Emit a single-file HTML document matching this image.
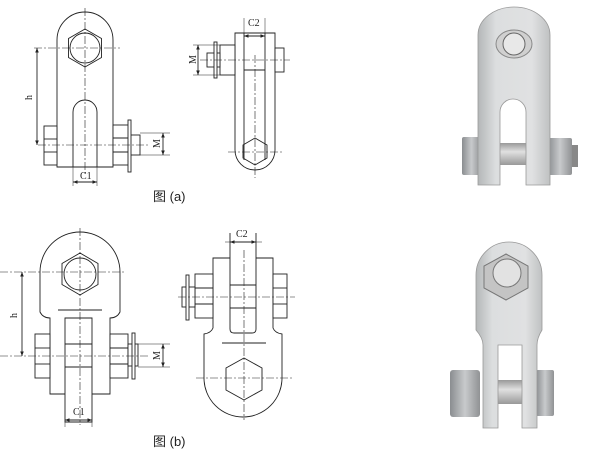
<!DOCTYPE html>
<html><head><meta charset="utf-8"><style>
html,body{margin:0;padding:0;background:#fff;width:600px;height:451px;overflow:hidden}
text{font-family:"Liberation Serif",serif;font-size:10px;fill:#222}
.cap{font-family:"Liberation Sans","Noto Sans CJK SC",sans-serif;font-size:13px}
</style></head><body>
<svg width="600" height="451" viewBox="0 0 600 451" xmlns="http://www.w3.org/2000/svg">
<defs>
<marker id="a" markerWidth="6" markerHeight="6" refX="5" refY="3" orient="auto-start-reverse"><path d="M0,1 L5,3 L0,5z" fill="#222"/></marker>
<linearGradient id="g" x1="0" x2="1"><stop offset="0" stop-color="#b4b7b8"/><stop offset="0.25" stop-color="#dcdedf"/><stop offset="0.75" stop-color="#e0e1e2"/><stop offset="1" stop-color="#bfc1c2"/></linearGradient>
<linearGradient id="n" x1="0" x2="1"><stop offset="0" stop-color="#8a8d90"/><stop offset="0.5" stop-color="#c8cacc"/><stop offset="1" stop-color="#909294"/></linearGradient>
<linearGradient id="p" x1="0" y1="0" x2="0" y2="1"><stop offset="0" stop-color="#999"/><stop offset="0.4" stop-color="#e0e0e0"/><stop offset="1" stop-color="#999"/></linearGradient>
</defs>
<g fill="none" stroke="#222" stroke-width="0.9">
<!-- (a) front -->
<path d="M57,167 V40 A28,28 0 0 1 113,40 V167 Z" fill="#fff"/>
<path d="M73,167 V112 A12,12 0 0 1 97,112 V167"/>
<polygon points="85,29 101.5,38.5 101.5,57.5 85,67 68.5,57.5 68.5,38.5"/>
<circle cx="85" cy="48" r="15"/>
<rect x="44" y="126" width="13" height="39" fill="#fff"/>
<line x1="44" y1="139" x2="57" y2="139"/><line x1="44" y1="152" x2="57" y2="152"/>
<rect x="113" y="125" width="17" height="40" fill="#fff"/>
<line x1="113" y1="138" x2="130" y2="138"/><line x1="113" y1="152" x2="130" y2="152"/>
<rect x="130" y="135" width="10" height="20" fill="#fff"/>
<rect x="128" y="120" width="3" height="52" fill="#fff"/>
<g stroke-dasharray="8,2,2,2" stroke-width="0.6">
<line x1="34" y1="48" x2="120" y2="48"/><line x1="85" y1="8" x2="85" y2="175"/><line x1="38" y1="145" x2="150" y2="145"/>
</g>
<line x1="140" y1="133" x2="170" y2="133" stroke-width="0.5"/><line x1="140" y1="155" x2="170" y2="155" stroke-width="0.5"/>
<line x1="163" y1="133" x2="163" y2="155" marker-start="url(#a)" marker-end="url(#a)"/>
<line x1="37" y1="48" x2="37" y2="145" marker-start="url(#a)" marker-end="url(#a)"/>
<line x1="73" y1="167" x2="73" y2="186" stroke-width="0.5"/><line x1="97" y1="167" x2="97" y2="186" stroke-width="0.5"/>
<line x1="73" y1="182" x2="97" y2="182" marker-start="url(#a)" marker-end="url(#a)"/>
<!-- (a) side -->
<path d="M235,33 H275 V150 A20,20 0 0 1 235,150 Z" fill="#fff"/>
<line x1="244" y1="33" x2="244" y2="160"/><line x1="265" y1="33" x2="265" y2="160"/>
<line x1="244" y1="70" x2="265" y2="70"/>
<polygon points="255,138 267,145 267,158 255,165 243,158 243,145"/>
<rect x="275" y="48" width="9" height="24" fill="#fff"/>
<rect x="220" y="45" width="15" height="30" fill="#fff"/>
<rect x="207" y="53" width="13" height="14" fill="#fff"/>
<rect x="214" y="42" width="3" height="36" fill="#fff"/>
<g stroke-dasharray="8,2,2,2" stroke-width="0.6">
<line x1="200" y1="60" x2="290" y2="60"/><line x1="255" y1="55" x2="255" y2="178"/><line x1="228" y1="152" x2="283" y2="152"/>
</g>
<line x1="244" y1="33" x2="244" y2="18" stroke-width="0.5"/><line x1="265" y1="33" x2="265" y2="18" stroke-width="0.5"/>
<line x1="244" y1="36" x2="265" y2="36" marker-start="url(#a)" marker-end="url(#a)"/>
<line x1="193" y1="45" x2="220" y2="45" stroke-width="0.5"/><line x1="193" y1="75" x2="220" y2="75" stroke-width="0.5"/>
<line x1="198" y1="45" x2="198" y2="75" marker-start="url(#a)" marker-end="url(#a)"/>
<!-- (b) front -->
<path d="M40,272 A40,40 0 0 1 120,272 V312 Q117,318 110,318 V394 H50 V318 Q43,318 40,312 Z" fill="#fff"/>
<path d="M65,422 V318 H92 V422 Z" fill="#fff"/>
<line x1="65" y1="344" x2="92" y2="344"/><line x1="65" y1="367" x2="92" y2="367"/>
<line x1="58" y1="310" x2="102" y2="310"/>
<polygon points="80,253 98,263.5 98,284.5 80,295 62,284.5 62,263.5"/>
<circle cx="80" cy="274" r="16"/>
<rect x="35" y="334" width="15" height="44" fill="#fff"/>
<line x1="35" y1="348" x2="50" y2="348"/><line x1="35" y1="364" x2="50" y2="364"/>
<rect x="110" y="334" width="18" height="44" fill="#fff"/>
<line x1="110" y1="348" x2="128" y2="348"/><line x1="110" y1="364" x2="128" y2="364"/>
<rect x="128" y="344" width="10" height="22" fill="#fff"/>
<rect x="132" y="333" width="3" height="46" fill="#fff"/>
<g stroke-dasharray="8,2,2,2" stroke-width="0.6">
<line x1="0" y1="272" x2="125" y2="272"/><line x1="80" y1="228" x2="80" y2="425"/><line x1="0" y1="356" x2="150" y2="356"/>
</g>
<line x1="138" y1="344" x2="170" y2="344" stroke-width="0.5"/><line x1="138" y1="367" x2="170" y2="367" stroke-width="0.5"/>
<line x1="163" y1="344" x2="163" y2="367" marker-start="url(#a)" marker-end="url(#a)"/>
<line x1="22" y1="272" x2="22" y2="356" marker-start="url(#a)" marker-end="url(#a)"/>
<line x1="65" y1="422" x2="65" y2="427" stroke-width="0.5"/><line x1="92" y1="422" x2="92" y2="427" stroke-width="0.5"/>
<line x1="65" y1="420" x2="92" y2="420" marker-start="url(#a)" marker-end="url(#a)"/>
<!-- (b) side -->
<path d="M213,258 H273 V328 Q275,333 282,334 V378 A39,39 0 0 1 204,378 V334 Q211,333 213,328 Z" fill="#fff"/>
<path d="M230,233 V329 Q230,333 234,333 H252 Q256,333 256,329 V233" fill="#fff"/>
<line x1="230" y1="285" x2="256" y2="285"/><line x1="230" y1="308" x2="256" y2="308"/>
<line x1="222" y1="343" x2="266" y2="343"/>
<polygon points="244,358 262,368 262,390 244,400 226,390 226,368"/>
<rect x="195" y="274" width="18" height="44" fill="#fff"/>
<line x1="195" y1="288" x2="213" y2="288"/><line x1="195" y1="304" x2="213" y2="304"/>
<rect x="273" y="274" width="14" height="44" fill="#fff"/>
<line x1="273" y1="288" x2="287" y2="288"/><line x1="273" y1="304" x2="287" y2="304"/>
<rect x="182" y="287" width="13" height="20" fill="#fff"/>
<rect x="186" y="275" width="3" height="45" fill="#fff"/>
<g stroke-dasharray="8,2,2,2" stroke-width="0.6">
<line x1="178" y1="297" x2="295" y2="297"/><line x1="244" y1="250" x2="244" y2="420"/><line x1="196" y1="378" x2="292" y2="378"/>
</g>
<line x1="225" y1="242" x2="262" y2="242" stroke-width="0.5"/>
<line x1="230" y1="242" x2="256" y2="242" marker-start="url(#a)" marker-end="url(#a)"/>
</g>
<text x="80" y="179">C1</text>
<text x="248" y="26">C2</text>
<text x="73" y="415">C1</text>
<text x="236" y="237">C2</text>
<text transform="translate(32,100) rotate(-90)">h</text>
<text transform="translate(160,148) rotate(-90)">M</text>
<text transform="translate(196,64) rotate(-90)">M</text>
<text transform="translate(17,318) rotate(-90)">h</text>
<text transform="translate(160,360) rotate(-90)">M</text>
<text class="cap" x="153" y="201">图 (a)</text>
<text class="cap" x="153" y="446">图 (b)</text>
<!-- photos top -->
<rect x="462" y="137" width="19" height="38" rx="2" fill="url(#n)"/>
<rect x="548" y="138" width="24" height="37" rx="2" fill="url(#n)"/>
<rect x="572" y="145" width="6" height="22" fill="#888"/>
<rect x="495" y="143" width="35" height="22" fill="url(#p)"/>
<path d="M478,185 V35 A36,28 0 0 1 550,35 V185 H526 V112 A13,13 0 0 0 500,112 V185 Z" fill="url(#g)" stroke="#999" stroke-width="0.8"/>
<ellipse cx="514" cy="44" rx="18" ry="14" fill="#d0d0d0" stroke="#888"/>
<circle cx="514" cy="44" r="11" fill="#e8e8e8" stroke="#666"/>
<!-- photos bottom -->
<rect x="450" y="370" width="30" height="47" rx="3" fill="url(#n)"/>
<rect x="536" y="370" width="18" height="46" rx="2" fill="url(#n)"/>
<rect x="494" y="380" width="32" height="24" fill="url(#p)"/>
<path d="M476,330 V275 A33,33 0 0 1 542,275 V330 Q537,338 537,345 V428 H522 V345 H498 V428 H483 V345 Q483,338 476,330 Z" fill="url(#g)" stroke="#999" stroke-width="0.8"/>
<polygon points="506,254 528,266 528,288 506,300 484,288 484,266" fill="#c4c4c4" stroke="#777"/>
<circle cx="507" cy="273" r="14" fill="#e2e2e2" stroke="#777"/>
</svg>
</body></html>
